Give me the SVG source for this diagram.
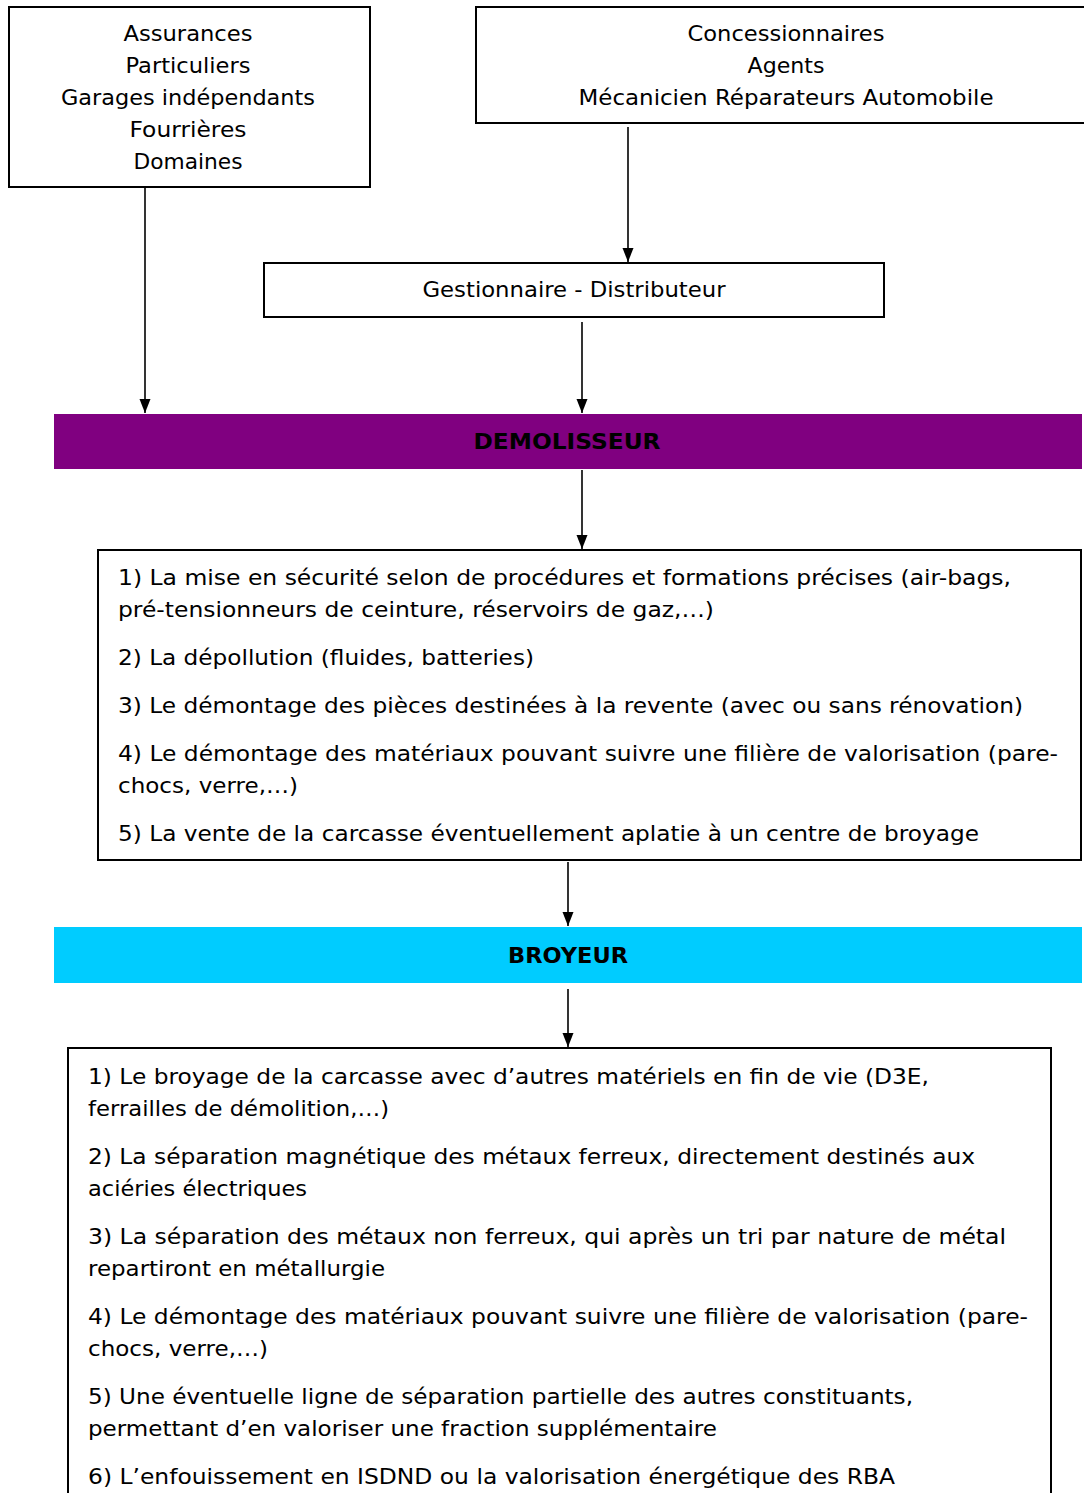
<svg xmlns="http://www.w3.org/2000/svg" width="1084" height="1493" viewBox="0 0 1084 1493">
  <style>
    .box { fill: #ffffff; stroke: #000000; stroke-width: 2; }
    .t { font-family: "DejaVu Sans", "Liberation Sans", sans-serif; font-size: 22px; fill: #000000; }
    .c { text-anchor: middle; }
    .b { font-weight: bold; }
    .edge { stroke: #000000; stroke-width: 1.6; fill: none; marker-end: url(#arrow); }
  </style>
  <defs>
    <marker id="arrow" markerUnits="userSpaceOnUse" markerWidth="14" markerHeight="12" viewBox="0 0 14 12" refX="14" refY="6" orient="auto">
      <path d="M0,0.5 L14,6 L0,11.5 Z" fill="#000000"/>
    </marker>
  </defs>
  <rect width="1084" height="1493" fill="#ffffff"/>

  <!-- Sources -->
  <g id="sources">
    <rect class="box" x="9" y="7" width="361" height="180"/>
    <text class="t c" x="188" y="41" textLength="129" lengthAdjust="spacingAndGlyphs">Assurances</text>
    <text class="t c" x="188" y="73" textLength="125" lengthAdjust="spacingAndGlyphs">Particuliers</text>
    <text class="t c" x="188" y="105" textLength="254" lengthAdjust="spacingAndGlyphs">Garages indépendants</text>
    <text class="t c" x="188" y="137" textLength="117" lengthAdjust="spacingAndGlyphs">Fourrières</text>
    <text class="t c" x="188" y="169" textLength="109" lengthAdjust="spacingAndGlyphs">Domaines</text>
  </g>

  <g id="reseau">
    <rect class="box" x="476" y="7" width="620" height="116"/>
    <text class="t c" x="786" y="41" textLength="197" lengthAdjust="spacingAndGlyphs">Concessionnaires</text>
    <text class="t c" x="786" y="73" textLength="77" lengthAdjust="spacingAndGlyphs">Agents</text>
    <text class="t c" x="786" y="105" textLength="415" lengthAdjust="spacingAndGlyphs">Mécanicien  Réparateurs  Automobile</text>
  </g>

  <g id="gestionnaire">
    <rect class="box" x="264" y="263" width="620" height="54"/>
    <text class="t c" x="574" y="297" textLength="303" lengthAdjust="spacingAndGlyphs">Gestionnaire  -  Distributeur</text>
  </g>

  <g id="demolisseur">
    <rect x="54" y="414" width="1028" height="55" fill="#800080"/>
    <text class="t c b" x="567" y="449" textLength="187" lengthAdjust="spacingAndGlyphs">DEMOLISSEUR</text>
  </g>

  <g id="etapes-demolisseur">
    <rect class="box" x="98" y="550" width="983" height="310"/>
    <text class="t" x="118" y="585" textLength="893" lengthAdjust="spacingAndGlyphs">1) La mise en sécurité  selon de procédures et formations  précises (air-bags,</text>
    <text class="t" x="118" y="617" textLength="596" lengthAdjust="spacingAndGlyphs">pré-tensionneurs  de ceinture,  réservoirs de gaz,…)</text>
    <text class="t" x="118" y="665" textLength="416" lengthAdjust="spacingAndGlyphs">2) La dépollution  (fluides,  batteries)</text>
    <text class="t" x="118" y="713" textLength="905" lengthAdjust="spacingAndGlyphs">3) Le démontage  des pièces destinées à la revente (avec ou sans rénovation)</text>
    <text class="t" x="118" y="761" textLength="940" lengthAdjust="spacingAndGlyphs">4) Le démontage  des matériaux pouvant  suivre une filière de valorisation (pare-</text>
    <text class="t" x="118" y="793" textLength="180" lengthAdjust="spacingAndGlyphs">chocs,  verre,…)</text>
    <text class="t" x="118" y="841" textLength="861" lengthAdjust="spacingAndGlyphs">5) La vente  de la carcasse éventuellement  aplatie à un centre de broyage</text>
  </g>

  <g id="broyeur">
    <rect x="54" y="927" width="1028" height="56" fill="#00CCFF"/>
    <text class="t c b" x="568" y="963" textLength="120" lengthAdjust="spacingAndGlyphs">BROYEUR</text>
  </g>

  <g id="etapes-broyeur">
    <rect class="box" x="68" y="1048" width="983" height="460"/>
    <text class="t" x="88" y="1084" textLength="841" lengthAdjust="spacingAndGlyphs">1) Le broyage  de la carcasse avec d’autres matériels en fin de vie (D3E,</text>
    <text class="t" x="88" y="1116" textLength="301" lengthAdjust="spacingAndGlyphs">ferrailles de démolition,…)</text>
    <text class="t" x="88" y="1164" textLength="887" lengthAdjust="spacingAndGlyphs">2) La séparation  magnétique  des métaux  ferreux,  directement  destinés  aux</text>
    <text class="t" x="88" y="1196" textLength="219" lengthAdjust="spacingAndGlyphs">aciéries électriques</text>
    <text class="t" x="88" y="1244" textLength="918" lengthAdjust="spacingAndGlyphs">3) La séparation  des métaux  non  ferreux,  qui après  un  tri  par  nature  de  métal</text>
    <text class="t" x="88" y="1276" textLength="297" lengthAdjust="spacingAndGlyphs">repartiront  en métallurgie</text>
    <text class="t" x="88" y="1324" textLength="940" lengthAdjust="spacingAndGlyphs">4) Le démontage  des matériaux pouvant  suivre une filière de valorisation (pare-</text>
    <text class="t" x="88" y="1356" textLength="180" lengthAdjust="spacingAndGlyphs">chocs,  verre,…)</text>
    <text class="t" x="88" y="1404" textLength="825" lengthAdjust="spacingAndGlyphs">5) Une éventuelle  ligne  de séparation  partielle des autres constituants,</text>
    <text class="t" x="88" y="1436" textLength="629" lengthAdjust="spacingAndGlyphs">permettant  d’en valoriser une fraction supplémentaire</text>
    <text class="t" x="88" y="1484" textLength="807" lengthAdjust="spacingAndGlyphs">6) L’enfouissement  en ISDND  ou la valorisation  énergétique  des RBA</text>
  </g>

  <!-- Connectors -->
  <g id="connectors">
    <line class="edge" x1="628" y1="127" x2="628" y2="262"/>
    <line class="edge" x1="145" y1="188" x2="145" y2="413"/>
    <line class="edge" x1="582" y1="322" x2="582" y2="413"/>
    <line class="edge" x1="582" y1="470" x2="582" y2="549"/>
    <line class="edge" x1="568" y1="862" x2="568" y2="926"/>
    <line class="edge" x1="568" y1="989" x2="568" y2="1047"/>
  </g>
</svg>
